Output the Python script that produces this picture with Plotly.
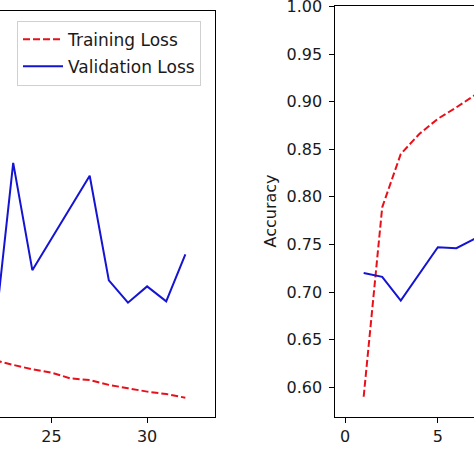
import plotly.graph_objects as go

# Left panel (loss) - visible epochs only (y axis of this panel is cropped out)
loss_epochs = [21, 22, 23, 24, 25, 26, 27, 28, 29, 30, 31, 32]
train_loss = [0.372, 0.368, 0.354, 0.341, 0.331, 0.314, 0.309, 0.295, 0.285, 0.275, 0.268, 0.257]
val_loss = [0.50, 0.431, 0.951, 0.634, 0.727, 0.820, 0.913, 0.604, 0.538, 0.586, 0.542, 0.681]

# Right panel (accuracy) - visible epochs only
acc_epochs = [1, 2, 3, 4, 5, 6, 7, 8]
train_acc = [0.590, 0.789, 0.845, 0.866, 0.882, 0.894, 0.907, 0.915]
val_acc = [0.720, 0.716, 0.691, 0.719, 0.747, 0.746, 0.756, 0.760]

acc_ticks = [0.60, 0.65, 0.70, 0.75, 0.80, 0.85, 0.90, 0.95, 1.00]
loss_xticks = [25, 30]
acc_xticks = [0, 5]

RED = "#e8101a"
BLUE = "#1414d2"
FONT = "DejaVu Sans"
TXT = "#1a1a1a"

fig = go.Figure()
fig.add_trace(go.Scatter(x=loss_epochs, y=train_loss, mode="lines", name="Training Loss",
                         line=dict(color=RED, width=2, dash="7px,3px"), xaxis="x", yaxis="y",
                         legendgroup="a"))
fig.add_trace(go.Scatter(x=loss_epochs, y=val_loss, mode="lines", name="Validation Loss",
                         line=dict(color=BLUE, width=2), xaxis="x", yaxis="y", legendgroup="b"))
fig.add_trace(go.Scatter(x=acc_epochs, y=train_acc, mode="lines", showlegend=False,
                         line=dict(color=RED, width=2, dash="7px,3px"), xaxis="x2", yaxis="y2"))
fig.add_trace(go.Scatter(x=acc_epochs, y=val_acc, mode="lines", showlegend=False,
                         line=dict(color=BLUE, width=2), xaxis="x2", yaxis="y2"))

H = 474.0
bottom = 1 - 417 / H
axis_common = dict(showgrid=False, zeroline=False, showline=True, linecolor="black", linewidth=1,
                   ticks="outside", ticklen=5, tickcolor="black", ticklabeloverflow="allow",
                   automargin=False, tickfont=dict(family=FONT, size=16, color=TXT))

fig.update_layout(
    width=474, height=474,
    margin=dict(l=0, r=0, t=0, b=0, autoexpand=False),
    paper_bgcolor="white", plot_bgcolor="white",
    font=dict(family=FONT, size=16, color=TXT),
    xaxis=dict(domain=[0, 215 / H], range=[22.31, 33.55], tickvals=loss_xticks,
               anchor="y", mirror=True, **axis_common),
    yaxis=dict(domain=[bottom, 1 - 11 / H], range=[0.2, 1.4], anchor="x", side="right",
               showgrid=False, zeroline=False, showline=True, linecolor="black", linewidth=1,
               showticklabels=False, ticks="", automargin=False),
    xaxis2=dict(domain=[335.3 / H, 1.0], range=[-0.53, 6.95], tickvals=acc_xticks,
                anchor="y2", mirror=True, **axis_common),
    yaxis2=dict(domain=[bottom, 1 - 6 / H], range=[0.5687, 1.0005], tickvals=acc_ticks,
                tickformat=".2f", anchor="x2", ticklabelstandoff=4, **axis_common),
    legend=dict(x=17 / H, xanchor="left", y=1 - 20.7 / H, yanchor="top",
                bgcolor="rgba(255,255,255,0.85)", bordercolor="#d0d0d0", borderwidth=1,
                font=dict(family=FONT, size=17, color=TXT), tracegroupgap=2,
                traceorder="grouped", itemwidth=40),
    annotations=[dict(text="Accuracy", x=270 / H, y=1 - 211.5 / H, xref="paper", yref="paper",
                      showarrow=False, textangle=-90, font=dict(family=FONT, size=16, color=TXT),
                      xanchor="center", yanchor="middle")],
)

fig.write_html("out.html", config={"displayModeBar": False},
               post_script="document.body.style.margin='0';document.body.style.padding='0';")
